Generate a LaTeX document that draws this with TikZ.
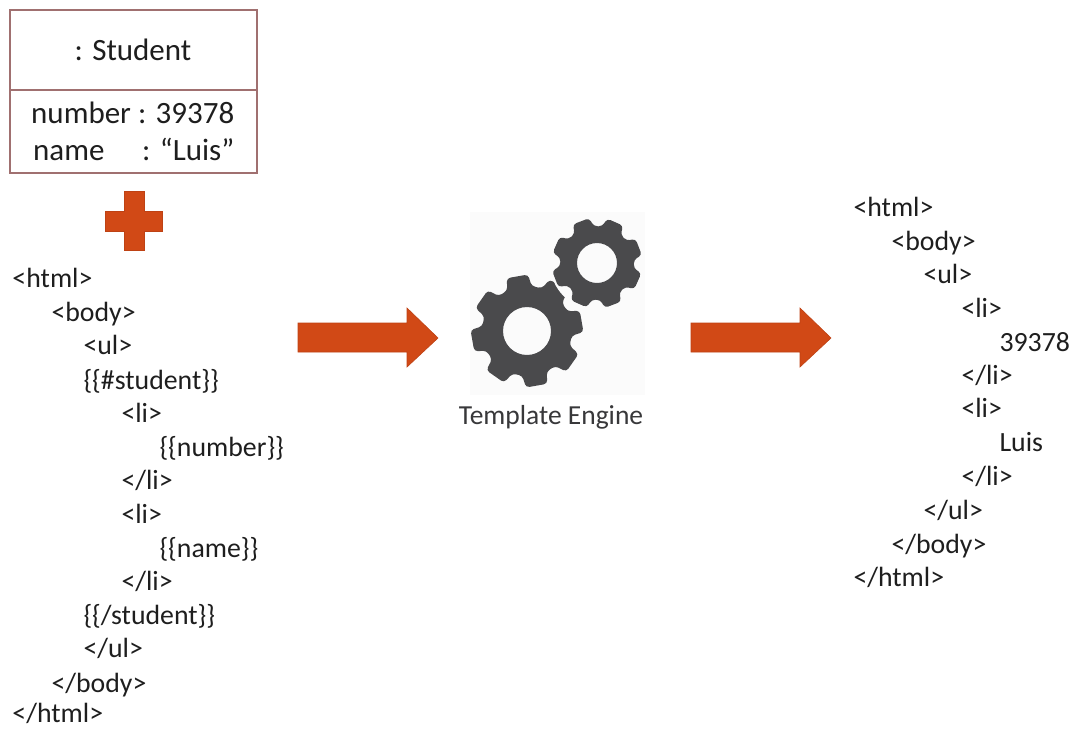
\documentclass[tikz,border=0pt]{standalone}
\usepackage{fontspec}
\setmainfont{Carlito}
\definecolor{te_red}{RGB}{209, 73, 22}
\definecolor{te_redline}{RGB}{190, 66, 20}
\definecolor{te_box}{RGB}{160, 112, 112}
\definecolor{te_gear}{RGB}{74, 74, 76}
\definecolor{te_label}{RGB}{56, 56, 58}
\definecolor{te_text}{RGB}{30, 30, 30}
\definecolor{te_back}{RGB}{251, 251, 251}
\tikzstyle{ln}=[anchor=base west,inner sep=0pt,text=te_text,yshift=-1pt,xshift=-0.7pt,font=\fontsize{27.8}{28}\selectfont]
\tikzstyle{on}=[anchor=base west,inner sep=0pt,text=te_text,font=\fontsize{31}{31}\selectfont]
\tikzstyle{tn}=[anchor=base,inner sep=0pt,text=te_text,font=\fontsize{31}{31}\selectfont]
\tikzstyle{uml}=[draw=te_box,line width=1.3pt]
\tikzstyle{blk}=[fill=te_red,draw=te_redline,line width=0.6pt]
\tikzstyle{gear}=[fill=te_gear,even odd rule,rounded corners=3.5pt]
% one toothed wheel: centre x, y, root, tip, hole, first tooth angle
\newcommand{\gearpath}[6]{%
  \begin{scope}[shift={(#1,#2)}]
  \fill [style=gear] (-#6+22.5:#3)
    \foreach \k in {0,...,7} {
      -- ({-(#6+45*\k)+16}:#3) -- ({-(#6+45*\k)+11}:#4)
      -- ({-(#6+45*\k)-11}:#4) -- ({-(#6+45*\k)-16}:#3)
    } -- cycle
    [sharp corners] (0,0) circle [radius=#5];
  \end{scope}
}
\begin{document}
\begin{tikzpicture}[x=1pt,y=-1pt]
    \useasboundingbox (0,0) rectangle (1074,729);
    % object box
    \draw [style=uml] (10,10) rectangle (257,173);
    \coordinate (0) at (10,90);
    \coordinate (1) at (257,90);
    \draw [style=uml] (0) to (1);
    \node [style=tn] (2) at (133,60) {: Student};
    \node [style=on] (3) at (31,123) {number : 39378};
    \node [style=on] (4) at (33,160) {name};
    \node [style=on] (5) at (142,160) {: “Luis”};
    % plus
    \draw [style=blk] (124,191) -- (144,191) -- (144,211) -- (162,211) -- (162,231)
      -- (144,231) -- (144,250) -- (124,250) -- (124,231) -- (105,231) -- (105,211)
      -- (124,211) -- cycle;
    % template
    \node [style=ln] (10) at (13,286) {<html>};
    \node [style=ln] (11) at (52,320) {<body>};
    \node [style=ln] (12) at (84,353) {<ul>};
    \node [style=ln] (13) at (84,388) {\{\{\#student\}\}};
    \node [style=ln] (14) at (122,421) {<li>};
    \node [style=ln] (15) at (160,455) {\{\{number\}\}};
    \node [style=ln] (16) at (122,488) {</li>};
    \node [style=ln] (17) at (122,522) {<li>};
    \node [style=ln] (18) at (160,556) {\{\{name\}\}};
    \node [style=ln] (19) at (122,589) {</li>};
    \node [style=ln] (20) at (84,623) {\{\{/student\}\}};
    \node [style=ln] (21) at (84,656) {</ul>};
    \node [style=ln] (22) at (52,691) {</body>};
    \node [style=ln] (23) at (13,721.5) {</html>};
    % arrows
    \draw [style=blk] (298,323) -- (407,323) -- (407,308) -- (438,338) -- (407,367)
      -- (407,352) -- (298,352) -- cycle;
    \draw [style=blk] (691,323) -- (800,323) -- (800,308) -- (831,338) -- (800,367)
      -- (800,352) -- (691,352) -- cycle;
    % engine
    \fill [te_back] (470,212) rectangle (645,395);
    \gearpath{527}{331}{45}{56.5}{24}{100}
    \fill [te_back] (597,263) circle [radius=47];
    \gearpath{597}{263}{37}{45.5}{20}{21}
    \node [style=tn,text=te_label,font=\fontsize{27.5}{28}\selectfont] (30) at (551,424) {Template Engine};
    % result
    \node [style=ln] (40) at (854,215) {<html>};
    \node [style=ln] (41) at (892,249) {<body>};
    \node [style=ln] (42) at (924,282) {<ul>};
    \node [style=ln] (43) at (962,316) {<li>};
    \node [style=ln] (44) at (1000,350) {39378};
    \node [style=ln] (45) at (962,383) {</li>};
    \node [style=ln] (46) at (962,416) {<li>};
    \node [style=ln] (47) at (1000,450) {Luis};
    \node [style=ln] (48) at (962,484) {</li>};
    \node [style=ln] (49) at (924,518) {</ul>};
    \node [style=ln] (50) at (892,552) {</body>};
    \node [style=ln] (51) at (854,585) {</html>};
\end{tikzpicture}
\end{document}
